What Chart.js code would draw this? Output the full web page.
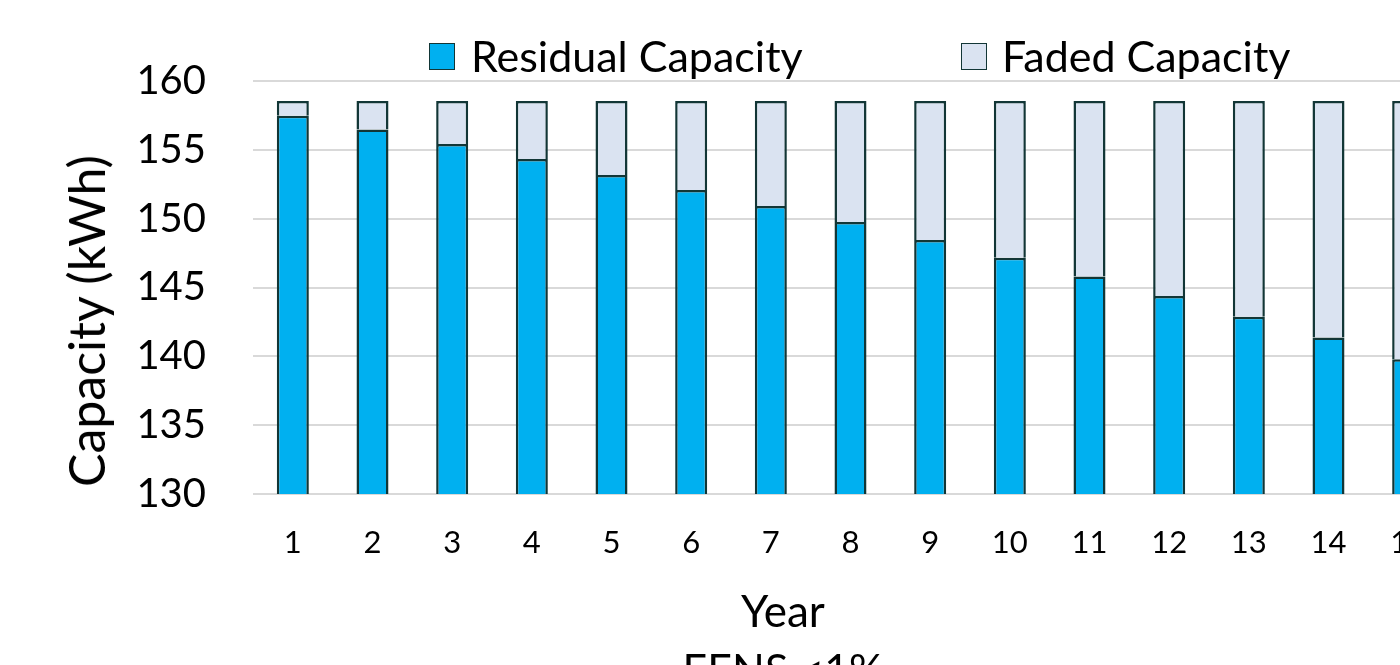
<!DOCTYPE html>
<html>
<head>
<meta charset="utf-8">
<script src="https://cdn.jsdelivr.net/npm/chart.js@4.4.1/dist/chart.umd.min.js"></script>
<style>
  html, body { margin: 0; padding: 0; background: #ffffff; overflow: hidden; }
  #wrap { position: relative; width: 1460px; height: 665px; font-family: Lato, "Open Sans", sans-serif; color: #000; }
  #chart { position: absolute; left: 0; top: 0; }
  .lbl { position: absolute; white-space: nowrap; line-height: 1.2; }
  .key { position: absolute; width: 24px; height: 25px; border: 1.5px solid #123636; }
</style>
</head>
<body>
<div id="wrap">
  <canvas id="chart" width="1460" height="665"></canvas>
  <div class="key" style="left:429px; top:43px; background:#00b0f0;"></div>
  <div class="lbl" style="left:471px; top:30px; font-size:43px;">Residual Capacity</div>
  <div class="key" style="left:961px; top:43px; background:#dae3f1;"></div>
  <div class="lbl" style="left:1002px; top:30px; font-size:43px;">Faded Capacity</div>
  <div class="lbl" style="left:86px; top:321px; font-size:50px; transform: translate(-50%, -50%) rotate(-90deg);">Capacity (kWh)</div>
  <div class="lbl" style="left:783px; top:584px; font-size:44px; transform: translateX(-50%);">Year</div>
  <div class="lbl" style="left:783px; top:643px; font-size:43px; transform: translateX(-50%);">EENS &lt;1%</div>
</div>
<script>
// Battery capacity per year: what remains and what has faded.
const years = ['1', '2', '3', '4', '5', '6', '7', '8', '9', '10', '11', '12', '13', '14', '15'];
const ratedCapacity = 158.55;
const residualCapacity = [157.48, 156.47, 155.42, 154.34, 153.17, 152.08, 150.92, 149.76, 148.45, 147.16, 145.79, 144.39, 142.88, 141.36, 139.79];
const fadedCapacity = residualCapacity.map(v => +(ratedCapacity - v).toFixed(2));
const yTicks = [130, 135, 140, 145, 150, 155, 160];

const edge = '#123636';
const gridColor = '#d9d9d9';

new Chart(document.getElementById('chart'), {
  type: 'bar',
  data: {
    labels: years,
    datasets: [
      {
        label: 'Residual Capacity',
        data: residualCapacity,
        backgroundColor: '#00b0f0',
        borderColor: edge,
        borderWidth: 2.5,
        borderSkipped: 'start'
      },
      {
        label: 'Faded Capacity',
        data: fadedCapacity,
        backgroundColor: '#dae3f1',
        borderColor: edge,
        borderWidth: 2.5,
        borderSkipped: 'start'
      }
    ]
  },
  options: {
    responsive: false,
    animation: false,
    layout: { padding: { top: 81, right: 12, bottom: 0, left: 0 } },
    datasets: { bar: { barPercentage: 0.402, categoryPercentage: 1 } },
    plugins: { legend: { display: false }, tooltip: { enabled: false } },
    scales: {
      x: {
        stacked: true,
        grid: { display: false, drawTicks: false },
        border: { display: false },
        ticks: { color: '#000', padding: 30, font: { family: 'Lato', size: 31 }, maxRotation: 0 },
        afterFit: s => { s.height = 171; }
      },
      y: {
        stacked: true,
        min: yTicks[0],
        max: yTicks[yTicks.length - 1],
        afterBuildTicks: s => { s.ticks = yTicks.map(v => ({ value: v })); },
        grid: { color: gridColor, lineWidth: 2, drawTicks: false },
        border: { display: false },
        ticks: { color: '#000', padding: 47, font: { family: 'Lato', size: 40 } },
        afterFit: s => { s.width = 253; }
      }
    }
  }
});
</script>
</body>
</html>
